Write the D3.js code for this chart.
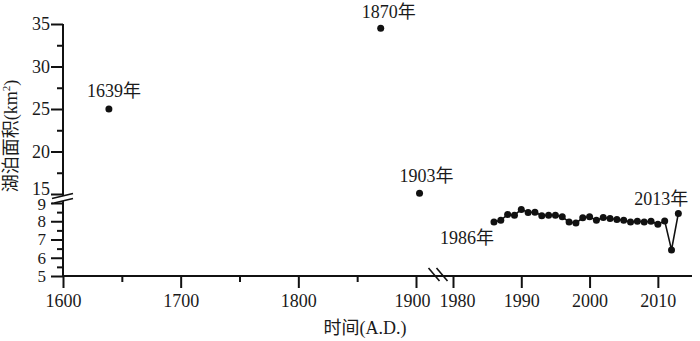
<!DOCTYPE html>
<html>
<head>
<meta charset="utf-8">
<script src="https://cdn.jsdelivr.net/npm/d3@7"></script>
<style>
  body { margin: 0; background: #fff; }
  text { font-family: "Liberation Serif", "Noto Sans CJK SC", serif; fill: #1a1a1a; }
</style>
</head>
<body>
<div id="app"></div>
<script>
// historical points (upper y segment, left x segment)
const histYears = [1639, 1870, 1903];
const histArea = [25.0, 34.5, 15.1];

// remote sensing series 1986-2013 (lower y segment, right x segment)
const recentYears = [1986, 1987, 1988, 1989, 1990, 1991, 1992, 1993, 1994, 1995,
  1996, 1997, 1998, 1999, 2000, 2001, 2002, 2003, 2004, 2005,
  2006, 2007, 2008, 2009, 2010, 2011, 2012, 2013];
const recentArea = [7.96, 8.05, 8.37, 8.33, 8.65, 8.48, 8.5, 8.3, 8.33, 8.33,
  8.24, 7.96, 7.9, 8.19, 8.24, 8.05, 8.2, 8.15, 8.1, 8.05,
  7.96, 8.0, 7.96, 8.0, 7.83, 8.02, 6.43, 8.43];

const xTicksLeft = [1600, 1700, 1800, 1900];
const xMinorLeft = [1650, 1750, 1850];
const xTicksRight = [1980, 1990, 2000, 2010];
const yTicksUp = [15, 20, 25, 30, 35];
const yMinorUp = [17.5, 22.5, 27.5, 32.5];
const yTicksLow = [5, 6, 7, 8, 9];
const yMinorLow = [5.5, 6.5, 7.5, 8.5];

const labelYears = [1639, 1870, 1903, 1986, 2013];

const svg = d3.select("#app").append("svg")
  .attr("width", 700)
  .attr("height", 341);

// broken scales
const xLeft = d3.scaleLinear().domain([1600, 1900]).range([63, 416]);
const xRight = d3.scaleLinear().domain([1980, 2015]).range([453, 692]);
const yUp = d3.scaleLinear().domain([15, 35]).range([194, 24]);
const yLow = d3.scaleLinear().domain([5, 9]).range([276, 203]);

const axisY0 = yLow(5);
const axisX0 = xLeft(1600);
const fmt = d3.format("d");

function styleAxis(g, fontSize) {
  g.select(".domain").remove();
  g.selectAll(".tick line").attr("stroke", "#111").attr("stroke-width", 2);
  g.selectAll(".tick text").attr("font-size", fontSize).attr("fill", "#1a1a1a");
}

svg.append("g").attr("transform", `translate(0,${axisY0})`)
  .call(d3.axisBottom(xLeft).tickValues(xTicksLeft).tickSize(12).tickPadding(6).tickFormat(fmt))
  .call(g => styleAxis(g, 18))
  .call(g => g.selectAll(".tick text").attr("dx", d => d === 1900 ? -4 : 0));
svg.append("g").attr("transform", `translate(0,${axisY0})`)
  .call(d3.axisBottom(xLeft).tickValues(xMinorLeft).tickSize(6).tickFormat(""))
  .call(g => styleAxis(g, 0));
svg.append("g").attr("transform", `translate(0,${axisY0})`)
  .call(d3.axisBottom(xRight).tickValues(xTicksRight).tickSize(12).tickPadding(6).tickFormat(fmt))
  .call(g => styleAxis(g, 18))
  .call(g => g.selectAll(".tick text").attr("dx", d => d === 1980 ? 4 : 0));

svg.append("g").attr("transform", `translate(${axisX0},0)`)
  .call(d3.axisLeft(yUp).tickValues(yTicksUp).tickSize(12).tickPadding(1).tickFormat(fmt))
  .call(g => styleAxis(g, 18))
  .call(g => g.selectAll(".tick text").attr("dy", d => d === 15 ? "0.05em" : "0.32em"));
svg.append("g").attr("transform", `translate(${axisX0},0)`)
  .call(d3.axisLeft(yUp).tickValues(yMinorUp).tickSize(6).tickFormat(""))
  .call(g => styleAxis(g, 0));
svg.append("g").attr("transform", `translate(${axisX0},0)`)
  .call(d3.axisLeft(yLow).tickValues(yTicksLow).tickSize(12).tickPadding(5).tickFormat(fmt))
  .call(g => styleAxis(g, 17))
  .call(g => g.selectAll(".tick text").attr("dy", d => d === 9 ? "0.38em" : "0.32em"));
svg.append("g").attr("transform", `translate(${axisX0},0)`)
  .call(d3.axisLeft(yLow).tickValues(yMinorLow).tickSize(6).tickFormat(""))
  .call(g => styleAxis(g, 0));

// axis lines
svg.append("line")
  .attr("x1", axisX0).attr("x2", axisX0)
  .attr("y1", yUp(35)).attr("y2", axisY0 + 1)
  .attr("stroke", "#111").attr("stroke-width", 2);
svg.append("line")
  .attr("x1", axisX0).attr("x2", xRight(2015))
  .attr("y1", axisY0).attr("y2", axisY0)
  .attr("stroke", "#111").attr("stroke-width", 2);

// break marks
const brk = svg.append("g").attr("stroke", "#111").attr("stroke-width", 1.6);
const yb = (yUp(15) + yLow(9)) / 2;
brk.append("polygon")
  .attr("points", `${axisX0 - 10},${yb} ${axisX0 + 10},${yb - 5} ${axisX0 + 10},${yb} ${axisX0 - 10},${yb + 5}`)
  .attr("fill", "#fff").attr("stroke", "none");
brk.append("line").attr("x1", axisX0 - 11).attr("y1", yb).attr("x2", axisX0 + 10).attr("y2", yb - 5);
brk.append("line").attr("x1", axisX0 - 11).attr("y1", yb + 5).attr("x2", axisX0 + 10).attr("y2", yb);
const xb = (xLeft(1900) + xRight(1980)) / 2;
brk.append("line").attr("x1", xb - 6).attr("y1", axisY0 - 8).attr("x2", xb + 5).attr("y2", axisY0 + 5);
brk.append("line").attr("x1", xb + 2).attr("y1", axisY0 - 8).attr("x2", xb + 13).attr("y2", axisY0 + 5);

// recent series line + dots
const recent = recentYears.map((y, i) => ({ year: y, v: recentArea[i] }));
svg.append("path")
  .datum(recent)
  .attr("fill", "none")
  .attr("stroke", "#111")
  .attr("stroke-width", 1.6)
  .attr("d", d3.line().x(d => xRight(d.year)).y(d => yLow(d.v)));

svg.selectAll("circle.recent")
  .data(recent)
  .enter().append("circle")
  .attr("class", "recent")
  .attr("cx", d => xRight(d.year))
  .attr("cy", d => yLow(d.v))
  .attr("r", 3.5)
  .attr("fill", "#111");

const hist = histYears.map((y, i) => ({ year: y, v: histArea[i] }));
svg.selectAll("circle.hist")
  .data(hist)
  .enter().append("circle")
  .attr("class", "hist")
  .attr("cx", d => xLeft(d.year))
  .attr("cy", d => yUp(d.v))
  .attr("r", 3.5)
  .attr("fill", "#111");

// point labels
const labelOffset = { 1639: [5, -12], 1870: [8, -10], 1903: [7, -11], 1986: [-27, 22], 2013: [-17, -8] };
labelYears.forEach(yr => {
  const isHist = yr < 1950;
  const idx = isHist ? histYears.indexOf(yr) : recentYears.indexOf(yr);
  const px = isHist ? xLeft(yr) : xRight(yr);
  const py = isHist ? yUp(histArea[idx]) : yLow(recentArea[idx]);
  const [dx, dy] = labelOffset[yr];
  svg.append("text")
    .attr("x", px + dx)
    .attr("y", py + dy)
    .attr("text-anchor", "middle")
    .attr("font-size", 18)
    .text(yr + "年");
});

// axis titles
svg.append("text")
  .attr("x", 365)
  .attr("y", 334)
  .attr("text-anchor", "middle")
  .attr("font-size", 18)
  .text("时间(A.D.)");

const yt = svg.append("text")
  .attr("transform", "translate(17,136) rotate(-90)")
  .attr("text-anchor", "middle")
  .attr("font-size", 18);
yt.append("tspan").text("湖泊面积(km");
yt.append("tspan").attr("font-size", 11).attr("dy", -7).text("2");
yt.append("tspan").attr("dy", 7).text(")");
</script>
</body>
</html>
